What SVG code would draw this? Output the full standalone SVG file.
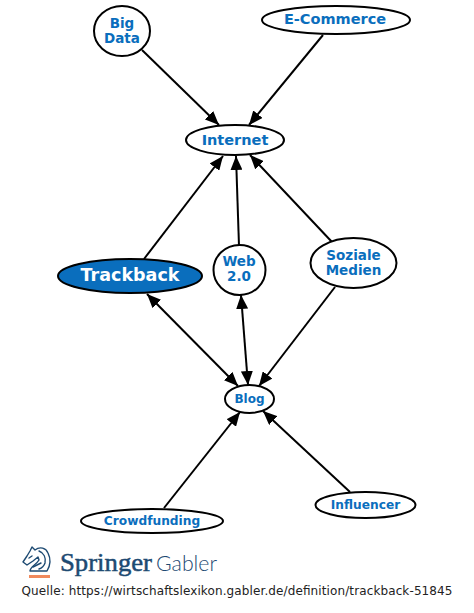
<svg xmlns="http://www.w3.org/2000/svg" width="474" height="613" viewBox="0 0 474 613">
<defs>
<marker id="a" markerUnits="userSpaceOnUse" markerWidth="15" markerHeight="12" refX="14" refY="6" orient="auto-start-reverse"><path d="M0 0L14 6L0 12Z" fill="#000"/></marker>
</defs>
<style>
.n{fill:#fff;stroke:#000;stroke-width:2}
.t{font-family:"DejaVu Sans",sans-serif;font-weight:700;fill:#0a6ebd;text-anchor:middle}
.c{fill:none;stroke:#000;stroke-width:2;marker-end:url(#a)}
.b{marker-start:url(#a)}
</style>
<rect width="474" height="613" fill="#fff"/>
<g id="connectors">
<path class="c" d="M142 50L219 125"/>
<path class="c" d="M323 35L249 125"/>
<path class="c" d="M144 259L223 156"/>
<path class="c" d="M239 246L236 156"/>
<path class="c" d="M332 242L250 155"/>
<path class="c b" d="M147 294L238 386"/>
<path class="c b" d="M241 295L248 385"/>
<path class="c" d="M335 287L259 386"/>
<path class="c" d="M164 508L240 412"/>
<path class="c" d="M350 492L263 411"/>
</g>
<g id="big-data"><ellipse class="n" cx="122" cy="31" rx="28" ry="25"/><text class="t" font-size="13.500" x="122" y="28">Big</text><text class="t" font-size="13.500" x="122" y="43">Data</text></g>
<g id="e-commerce"><ellipse class="n" cx="336" cy="20" rx="74" ry="14"/><text class="t" font-size="14.500" x="335" y="24">E-Commerce</text></g>
<g id="internet"><ellipse class="n" cx="235" cy="140" rx="49" ry="15"/><text class="t" font-size="14.500" x="235" y="144.500">Internet</text></g>
<g id="trackback"><ellipse cx="130" cy="276" rx="72" ry="17" fill="#0a6ebd" stroke="#000" stroke-width="2"/><text class="t" font-size="17.500" x="130" y="281" style="fill:#fff">Trackback</text></g>
<g id="web-2"><ellipse class="n" cx="239.500" cy="270" rx="26" ry="25"/><text class="t" font-size="13.500" x="239" y="266">Web</text><text class="t" font-size="13.500" x="239" y="281">2.0</text></g>
<g id="soziale-medien"><ellipse class="n" cx="353.500" cy="263" rx="43" ry="25"/><text class="t" font-size="13.500" x="353.500" y="260">Soziale</text><text class="t" font-size="13.500" x="353.500" y="275">Medien</text></g>
<g id="blog"><ellipse class="n" cx="249.500" cy="399" rx="24.500" ry="14"/><text class="t" font-size="12" x="249.500" y="403">Blog</text></g>
<g id="crowdfunding"><ellipse class="n" cx="152" cy="521" rx="71" ry="12"/><text class="t" font-size="12.200" x="152" y="525">Crowdfunding</text></g>
<g id="influencer"><ellipse class="n" cx="365.500" cy="505" rx="50" ry="13"/><text class="t" font-size="12.200" x="365.500" y="509">Influencer</text></g>
<g fill="none" stroke="#1d4a72" stroke-width="1.400" stroke-linejoin="round" stroke-linecap="round">
<path d="M32 547L35 550C40 546 46 548 48 553C51 559 50 566 47 571L30 571C30 567 36 565 39 560L38 557L33 561L27 565L23 562L27 556L30 551Z"/>
<path d="M39 551C44 553 46 558 45 563C44 566 42 568 39 569M29 558L32 556M33 567L41 563"/>
</g>
<rect x="29" y="575" width="21" height="3" fill="#f08a5d"/>
<text x="60" y="571" font-family="Liberation Serif,serif" font-size="26" fill="#1d4a72" stroke="#1d4a72" stroke-width=".5" textLength="92" lengthAdjust="spacingAndGlyphs">Springer</text>
<text x="156" y="571" font-family="Lato,sans-serif" font-size="21" font-weight="300" fill="#1d4a72" textLength="61" lengthAdjust="spacingAndGlyphs">Gabler</text>
<text x="21.500" y="595" font-family="DejaVu Sans,sans-serif" font-size="12" fill="#222" textLength="431" lengthAdjust="spacing">Quelle: https://wirtschaftslexikon.gabler.de/definition/trackback-51845</text>
</svg>
